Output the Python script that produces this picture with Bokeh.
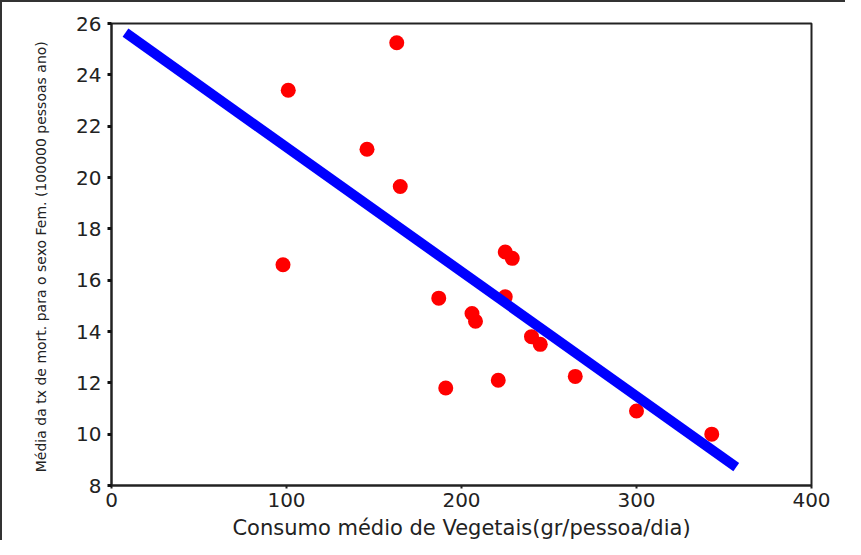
from bokeh.plotting import figure
from bokeh.models import Range1d, FixedTicker
from bokeh.embed import file_html
from bokeh.resources import INLINE

# Data
consumo = [101, 163, 146, 165, 98, 187, 191, 206, 208, 225, 229, 225, 221, 240, 245, 265, 300, 343]
mortalidade = [23.4, 25.25, 21.1, 19.65, 16.6, 15.3, 11.8, 14.7, 14.4, 17.1, 16.85, 15.35,
               12.1, 13.8, 13.5, 12.25, 10.9, 10.0]

# Fitted regression line
fit_intercept = 26.03
fit_slope = -0.0485
fit_x = [8, 357]
fit_y = [fit_intercept + fit_slope * x for x in fit_x]

x_ticks = [0, 100, 200, 300, 400]
y_ticks = [8, 10, 12, 14, 16, 18, 20, 22, 24, 26]

FONT = "DejaVu Sans"
TXT = "#222222"

p = figure(width=845, height=540, output_backend="svg", toolbar_location=None,
           x_range=Range1d(0, 400), y_range=Range1d(8, 26),
           min_border_left=109, min_border_top=21, min_border_right=36, min_border_bottom=55)
p.styles = {"border-top": "2px solid #333333", "border-left": "2px solid #333333"}

p.grid.visible = False
p.outline_line_color = "#222222"
p.outline_line_width = 2

p.scatter(consumo, mortalidade, size=15, color="#ff0000", line_color=None)
p.line(fit_x, fit_y, line_width=10, color="#0000ff")

xa = p.xaxis[0]
xa.ticker = FixedTicker(ticks=x_ticks)
xa.axis_label = "Consumo médio de Vegetais(gr/pessoa/dia)"
xa.axis_label_text_font = FONT
xa.axis_label_text_font_size = "21px"
xa.axis_label_text_font_style = "normal"
xa.axis_label_text_color = TXT
xa.axis_label_standoff = 6
xa.major_label_text_font = FONT
xa.major_label_text_font_size = "20px"
xa.major_label_text_color = TXT
xa.major_label_standoff = 4
xa.axis_line_color = "#222222"
xa.axis_line_width = 2
xa.major_tick_out = 3
xa.major_tick_in = 0
xa.major_tick_line_width = 2
xa.major_tick_line_color = "#222222"
xa.minor_tick_line_color = None

ya = p.yaxis[0]
ya.ticker = FixedTicker(ticks=y_ticks)
ya.axis_label = "Média da tx de mort.  para o sexo Fem. (100000 pessoas ano)"
ya.axis_label_text_font = FONT
ya.axis_label_text_font_size = "14px"
ya.axis_label_text_font_style = "normal"
ya.axis_label_text_color = TXT
ya.axis_label_standoff = 24
ya.major_label_text_font = FONT
ya.major_label_text_font_size = "20px"
ya.major_label_text_color = TXT
ya.major_label_standoff = 6
ya.axis_line_color = "#222222"
ya.axis_line_width = 2
ya.major_tick_out = 4
ya.major_tick_in = 0
ya.major_tick_line_width = 3
ya.major_tick_line_color = "#111111"
ya.minor_tick_line_color = None

open("out.html", "w").write(file_html(p, INLINE))
